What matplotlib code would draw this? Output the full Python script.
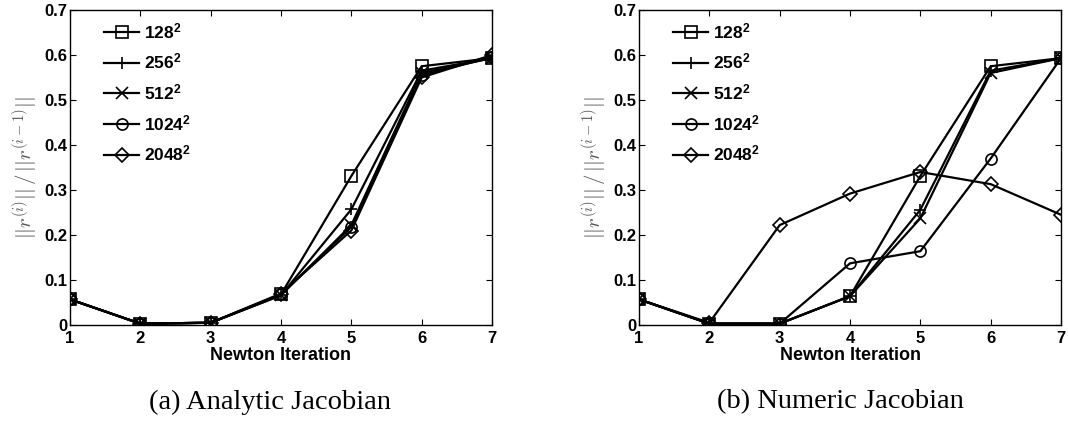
import matplotlib
matplotlib.use('Agg')
import matplotlib.pyplot as plt

plt.rcParams['font.family'] = ['Liberation Sans', 'DejaVu Sans']
plt.rcParams['font.weight'] = 'bold'
plt.rcParams['mathtext.fontset'] = 'custom'
plt.rcParams['mathtext.rm'] = 'Liberation Sans:bold'
plt.rcParams['mathtext.it'] = 'Liberation Sans:bold'
plt.rcParams['mathtext.bf'] = 'Liberation Sans:bold'

# data
iterations = [1, 2, 3, 4, 5, 6, 7]
grids = ['$128^2$', '$256^2$', '$512^2$', '$1024^2$', '$2048^2$']
markers = ['s', '+', 'x', 'o', 'D']

analytic = [
    [0.057, 0.003, 0.005, 0.068, 0.331, 0.575, 0.593],
    [0.057, 0.003, 0.005, 0.066, 0.257, 0.565, 0.593],
    [0.057, 0.003, 0.005, 0.066, 0.222, 0.560, 0.593],
    [0.057, 0.003, 0.005, 0.068, 0.218, 0.555, 0.595],
    [0.057, 0.003, 0.005, 0.070, 0.210, 0.550, 0.600],
]
numeric = [
    [0.057, 0.003, 0.003, 0.064, 0.331, 0.575, 0.593],
    [0.057, 0.003, 0.003, 0.064, 0.256, 0.565, 0.593],
    [0.057, 0.003, 0.003, 0.064, 0.237, 0.560, 0.593],
    [0.057, 0.003, 0.003, 0.137, 0.164, 0.370, 0.593],
    [0.057, 0.005, 0.222, 0.292, 0.340, 0.313, 0.245],
]
captions = ['(a) Analytic Jacobian', '(b) Numeric Jacobian']

fig = plt.figure(figsize=(10.68, 4.21), dpi=100)
ax1 = fig.add_axes([70/1068, 96/421, 422/1068, 315/421])
ax2 = fig.add_axes([639/1068, 96/421, 422/1068, 315/421])

for ax, data, cap, cx in [(ax1, analytic, captions[0], 270/1068),
                          (ax2, numeric, captions[1], 840/1068)]:
    for vals, m, lab in zip(data, markers, grids):
        ms = 9 if m in ('+', 'x') else 8
        if m == 'D':
            ms = 7
        ax.plot(iterations, vals, color='k', marker=m, markersize=ms,
                markerfacecolor='none', markeredgecolor='k', markeredgewidth=1.2,
                linewidth=1.6, label=lab)
    ax.set_xlim(1, 7)
    ax.set_ylim(0, 0.7)
    ax.set_xticks(iterations)
    ax.set_yticks([0, 0.1, 0.2, 0.3, 0.4, 0.5, 0.6, 0.7])
    ax.set_yticklabels(['0', '0.1', '0.2', '0.3', '0.4', '0.5', '0.6', '0.7'])
    ax.tick_params(direction='in', top=True, right=True, length=4,
                   labelsize=12, pad=2)
    ax.tick_params(axis='x', pad=4)
    for s in ax.spines.values():
        s.set_linewidth(1.0)
    ax.set_xlabel('Newton Iteration', fontsize=13, fontweight='bold', labelpad=1)
    ax.set_ylabel(r'$||r^{(i)}||\,/\,||r^{(i-1)}||$', fontsize=15,
                  color='#555555', math_fontfamily='cm', labelpad=3)
    ax.legend(loc='upper left', frameon=False, fontsize=12.5,
              handlelength=2.0, handletextpad=0.3, labelspacing=0.62,
              bbox_to_anchor=(0.055, 1.0), borderaxespad=0.25)
    fig.text(cx, 1 - 402/421, cap, ha='center', va='center',
             family='Liberation Serif', fontweight='normal', fontsize=20.5)

fig.savefig('out.png', dpi=100)
